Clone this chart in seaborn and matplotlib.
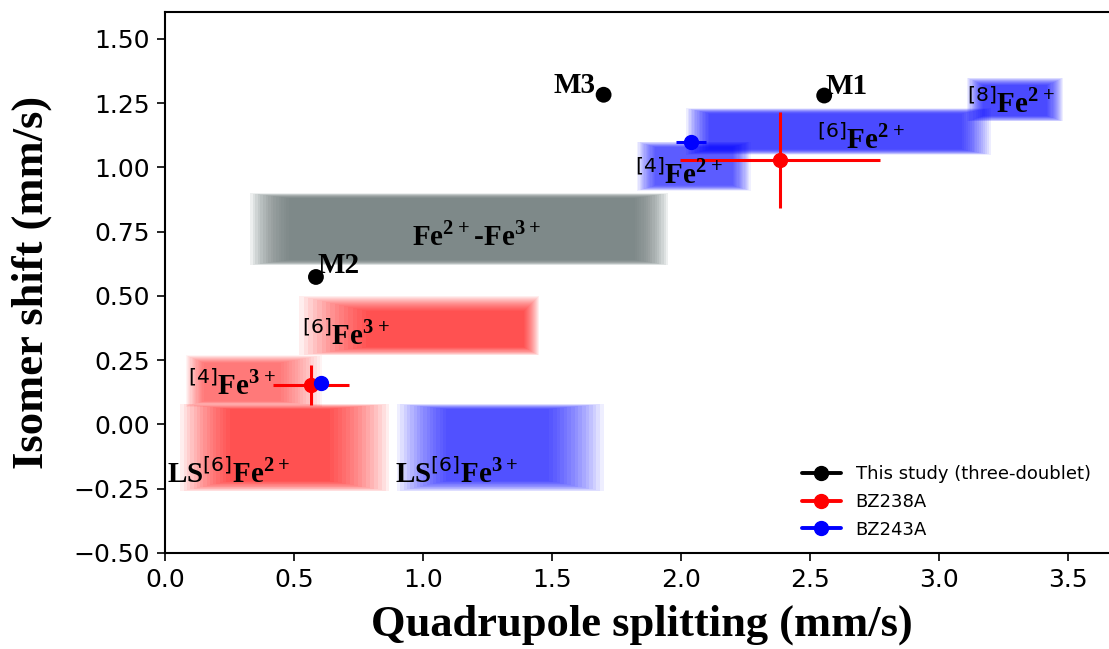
import matplotlib
matplotlib.use("Agg")
import matplotlib.pyplot as plt
from matplotlib.patches import Rectangle
from matplotlib.lines import Line2D
import seaborn as sns
import pandas as pd
import numpy as np

# --- Reference fields (fuzzy boxes): outer / core extents in QS (x) and IS (y)
region_labels = [r"Fe$^{\mathbf{2+}}$-Fe$^{\mathbf{3+}}$",
                 r"$^{[6]}$Fe$^{\mathbf{3+}}$",
                 r"$^{[4]}$Fe$^{\mathbf{3+}}$",
                 r"LS$^{[6]}$Fe$^{\mathbf{2+}}$",
                 r"LS$^{[6]}$Fe$^{\mathbf{3+}}$",
                 r"$^{[4]}$Fe$^{\mathbf{2+}}$",
                 r"$^{[6]}$Fe$^{\mathbf{2+}}$",
                 r"$^{[8]}$Fe$^{\mathbf{2+}}$"]
region_colors = ["#6f7c7c", "red", "red", "red", "blue", "blue", "blue", "blue"]
qs_outer_lo = [0.33, 0.52, 0.08, 0.06, 0.90, 1.83, 2.02, 3.11]
qs_outer_hi = [1.95, 1.45, 0.61, 0.87, 1.70, 2.27, 3.20, 3.48]
qs_core_lo = [0.48, 0.78, 0.15, 0.25, 1.09, 1.90, 2.11, 3.17]
qs_core_hi = [1.82, 1.39, 0.45, 0.64, 1.49, 2.20, 3.09, 3.42]
is_outer_lo = [0.62, 0.27, 0.07, -0.26, -0.26, 0.91, 1.05, 1.18]
is_outer_hi = [0.90, 0.50, 0.27, 0.08, 0.08, 1.10, 1.23, 1.35]
is_core_lo = [0.64, 0.30, 0.09, -0.22, -0.22, 0.93, 1.07, 1.20]
is_core_hi = [0.88, 0.44, 0.24, 0.06, 0.06, 1.08, 1.21, 1.32]
region_alpha = [0.12, 0.065, 0.045, 0.065, 0.065, 0.06, 0.07, 0.07]

# label anchor (left edge, vertical centre)
label_x = [1.209, 0.53, 0.09, 0.008, 0.89, 1.82, 2.527, 3.11]
label_y = [0.734, 0.344, 0.15, -0.193, -0.193, 0.97, 1.11, 1.248]
label_ha = ["center", "left", "left", "left", "left", "left", "left", "left"]

# --- This study (three-doublet)
site_names = ["M1", "M2", "M3"]
site_qs = [2.555, 0.585, 1.70]
site_is = [1.28, 0.574, 1.283]

# --- Literature data
bz238_qs = [2.384, 0.566]
bz238_is = [1.03, 0.154]
bz238_qs_err = [0.388, 0.147]
bz238_is_err = [0.187, 0.078]

bz243_qs = [2.04, 0.603]
bz243_is = [1.10, 0.163]
bz243_qs_err = [0.058, 0.0]
bz243_is_err = [0.0, 0.0]

sns.set_style("ticks")
plt.rcParams["text.color"] = "black"
plt.rcParams["axes.labelcolor"] = "black"
plt.rcParams["mathtext.fontset"] = "custom"
plt.rcParams["mathtext.rm"] = "DejaVu Sans"
plt.rcParams["mathtext.bf"] = "Liberation Serif:bold"

fig = plt.figure(figsize=(11.09, 6.49), dpi=100)
ax = fig.add_axes([165 / 1109, 96 / 649, (3.7 * 258) / 1109, 541 / 649])


def fuzzy_box(i, n=16):
    for k in range(n):
        t = k / (n - 1)
        x0 = qs_outer_lo[i] + (qs_core_lo[i] - qs_outer_lo[i]) * t
        x1 = qs_outer_hi[i] + (qs_core_hi[i] - qs_outer_hi[i]) * t
        y0 = is_outer_lo[i] + (is_core_lo[i] - is_outer_lo[i]) * t
        y1 = is_outer_hi[i] + (is_core_hi[i] - is_outer_hi[i]) * t
        ax.add_patch(Rectangle((x0, y0), x1 - x0, y1 - y0, color=region_colors[i],
                               alpha=region_alpha[i], lw=0, zorder=1))


for i in range(len(region_labels)):
    fuzzy_box(i)
    ax.text(label_x[i], label_y[i], region_labels[i], ha=label_ha[i], va="center",
            fontsize=21, fontweight="bold", family="Liberation Serif", zorder=5)

# study points
df = pd.DataFrame({"qs": site_qs, "is": site_is, "site": site_names})
sns.scatterplot(data=df, x="qs", y="is", color="black", s=130, edgecolor="none",
                legend=False, ax=ax, zorder=4)
site_off = {"M1": (0.005, 0.037, "left"), "M2": (0.008, 0.043, "left"),
            "M3": (-0.03, 0.037, "right")}
for name, x, y in zip(site_names, site_qs, site_is):
    dx, dy, ha = site_off[name]
    ax.text(x + dx, y + dy, name, ha=ha, va="center", fontsize=21,
            fontweight="bold", family="Liberation Serif", zorder=5)

ax.errorbar(bz238_qs, bz238_is, xerr=bz238_qs_err, yerr=bz238_is_err, fmt="o",
            color="red", ms=10, elinewidth=2.2, capsize=0, zorder=4)
ax.errorbar(bz243_qs, bz243_is, xerr=bz243_qs_err, yerr=bz243_is_err, fmt="o",
            color="blue", ms=10, elinewidth=2.2, capsize=0, zorder=4)

ax.set_xlim(0, 3.7)
ax.set_ylim(-0.5, 1.605)
ax.set_xticks(np.arange(0, 3.51, 0.5))
ax.set_yticks(np.arange(-0.5, 1.51, 0.25))
ax.set_yticklabels([f"{v:.2f}".replace("-", "\u2212") for v in np.arange(-0.5, 1.51, 0.25)])
ax.tick_params(labelsize=18, length=6, width=1.2, pad=5, colors="black")
for s in ax.spines.values():
    s.set_linewidth(1.5)
    s.set_color("black")

ax.set_xlabel("Quadrupole splitting (mm/s)", fontsize=32, fontweight="bold",
              family="Liberation Serif", labelpad=9)
ax.set_ylabel("Isomer shift (mm/s)", fontsize=32, fontweight="bold",
              family="Liberation Serif", labelpad=15)

handles = [Line2D([], [], color=c, marker="o", lw=2.8, ms=10)
           for c in ["black", "red", "blue"]]
ax.legend(handles, ["This study (three-doublet)", "BZ238A", "BZ243A"],
          loc="lower right", bbox_to_anchor=(1107 / 1109, 94 / 649),
          bbox_transform=fig.transFigure, frameon=False, fontsize=13,
          handlelength=2.2, handletextpad=0.8, labelspacing=0.55)

fig.savefig("out.png", dpi=100)
